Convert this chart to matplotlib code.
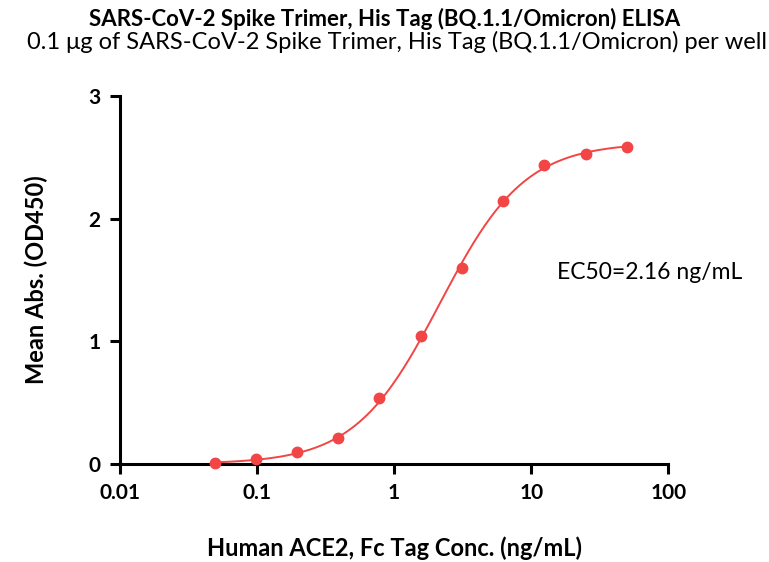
import numpy as np
import matplotlib.pyplot as plt
from matplotlib.ticker import FixedLocator, NullLocator

plt.rcParams['font.family'] = ['Lato', 'DejaVu Sans']

# concentrations (ng/mL) and mean OD450
conc = [0.049, 0.098, 0.195, 0.39, 0.78, 1.56, 3.125, 6.25, 12.5, 25, 50]
od450 = [0.01, 0.04, 0.10, 0.21, 0.54, 1.04, 1.60, 2.14, 2.44, 2.53, 2.58]

# 4PL fit parameters (estimated)
bottom, top, ec50, hill = 0.0, 2.62, 2.16, 1.4

xticks = [0.01, 0.1, 1, 10, 100]
xticklabels = ["0.01", "0.1", "1", "10", "100"]
yticks = [0, 1, 2, 3]

red = "#f24545"

fig = plt.figure(figsize=(7.69, 5.62), dpi=100)
ax = fig.add_axes([0.156, 0.1744, 0.713, 0.655])

xs = np.logspace(np.log10(conc[0]), np.log10(conc[-1]), 300)
fit = bottom + (top - bottom) / (1 + (ec50 / xs) ** hill)
ax.plot(xs, fit, color=red, lw=1.4, zorder=2)
ax.plot(conc, od450, "o", color=red, ms=7.5, zorder=3, clip_on=False)

ax.set_xscale("log")
ax.set_xlim(0.01, 100)
ax.set_ylim(0, 3)
ax.xaxis.set_major_locator(FixedLocator(xticks))
ax.xaxis.set_minor_locator(NullLocator())
ax.set_xticklabels(xticklabels)
ax.set_yticks(yticks)

for s in ["top", "right"]:
    ax.spines[s].set_visible(False)
for s in ["left", "bottom"]:
    ax.spines[s].set_linewidth(2.2)
ax.tick_params(width=2.2, length=7, labelsize=15, pad=7)
for lab in ax.get_xticklabels() + ax.get_yticklabels():
    lab.set_fontweight("bold")

ax.set_xlabel("Human ACE2, Fc Tag Conc. (ng/mL)", fontsize=17, fontweight="bold", labelpad=24)
ax.set_ylabel("Mean Abs. (OD450)", fontsize=17, fontweight="bold", labelpad=29)

fig.text(0.5, 0.967, "SARS-CoV-2 Spike Trimer, His Tag (BQ.1.1/Omicron) ELISA",
         ha="center", va="center", fontsize=16, fontweight="bold")
fig.text(0.516, 0.925, "0.1 \u03bcg of SARS-CoV-2 Spike Trimer, His Tag (BQ.1.1/Omicron) per well",
         ha="center", va="center", fontsize=17)
fig.text(0.724, 0.516, "EC50=2.16 ng/mL", ha="left", va="center", fontsize=16.5)

fig.savefig("out.png", dpi=100)
